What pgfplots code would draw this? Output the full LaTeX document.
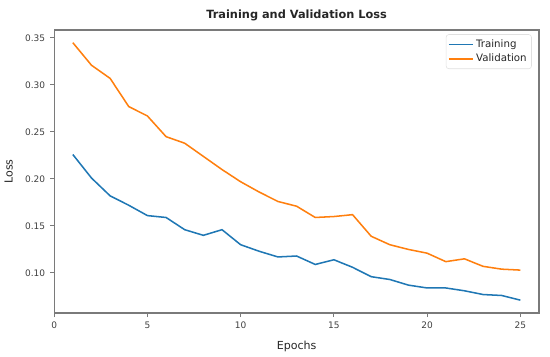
\documentclass[border=0pt]{standalone}
\usepackage{pgfplots}
\pgfplotsset{compat=1.18}
\usepackage{fontspec}
\setmainfont{DejaVu Sans}
\definecolor{tabblue}{HTML}{1F77B4}
\definecolor{taborange}{HTML}{FF7F0E}
\definecolor{spine}{HTML}{7A7A7A}
\definecolor{txt}{HTML}{262626}
\definecolor{ticktxt}{HTML}{404040}
\begin{document}
\begin{tikzpicture}
\begin{axis}[
  name=ax, anchor=south west, at={(0,0)},
  scale only axis, width=349.2bp, height=203.8bp,
  xmin=0, xmax=26, ymin=0.0574, ymax=0.3585,
  xtick={0,5,10,15,20,25},
  ytick={0.10,0.15,0.20,0.25,0.30,0.35},
  yticklabel style={/pgf/number format/.cd, fixed, fixed zerofill, precision=2},
  /pgf/number format/assume math mode=true,
  tick align=outside, tick pos=left,
  major tick length=3bp,
  every tick/.style={spine, line width=0.7bp},
  axis line style={spine, line width=0.9bp},
  ticklabel style={font=\fontsize{6.5}{7}\selectfont, text=ticktxt},
  xlabel={Epochs}, ylabel={Loss},
  label style={font=\fontsize{8}{9}\selectfont, text=txt},
  xlabel style={yshift=-2bp},
  ylabel style={yshift=2bp},
  title={\textbf{Training and Validation Loss}},
  title style={font=\fontsize{8.2}{9}\selectfont, text=txt, yshift=-3bp},
  legend style={font=\fontsize{7.4}{8}\selectfont, text=txt, draw=black!12, rounded corners=2bp, inner sep=1.5bp, legend cell align=left, at={(0.985,0.985)}, anchor=north east, row sep=-0.5bp},
]
\addplot[tabblue, line width=1.1bp] coordinates {
(1,0.226)(2,0.201)(3,0.182)(4,0.172)(5,0.161)(6,0.159)(7,0.146)(8,0.140)(9,0.146)(10,0.130)
(11,0.123)(12,0.117)(13,0.118)(14,0.109)(15,0.114)(16,0.106)(17,0.096)(18,0.093)(19,0.087)(20,0.084)
(21,0.084)(22,0.081)(23,0.077)(24,0.076)(25,0.071)};
\addlegendentry{Training}
\addplot[taborange, line width=1.1bp] coordinates {
(1,0.345)(2,0.321)(3,0.307)(4,0.277)(5,0.267)(6,0.245)(7,0.238)(8,0.224)(9,0.210)(10,0.197)
(11,0.186)(12,0.176)(13,0.171)(14,0.159)(15,0.160)(16,0.162)(17,0.139)(18,0.130)(19,0.125)(20,0.121)
(21,0.112)(22,0.115)(23,0.107)(24,0.104)(25,0.103)};
\addlegendentry{Validation}
\end{axis}
\path[use as bounding box] (-38.9bp,-31.7bp) rectangle (357.1bp,225.4bp);
\end{tikzpicture}
\end{document}
